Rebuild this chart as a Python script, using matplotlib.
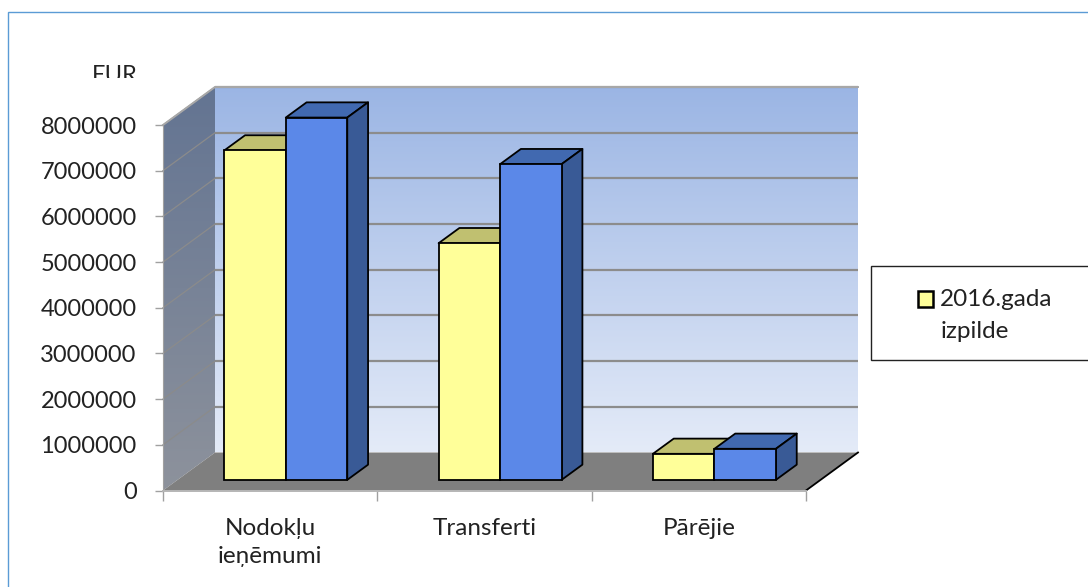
import numpy as np
import matplotlib
matplotlib.use("Agg")
import matplotlib.pyplot as plt
from matplotlib.patches import Polygon, Rectangle
from matplotlib.transforms import Bbox

categories = ["Nodokļu\nieņēmumi", "Transferti", "Pārējie"]
izpilde_2016 = [7210000, 5180000, 570000]
otra_serija = [7930000, 6910000, 680000]
y_ticks = [0, 1000000, 2000000, 3000000, 4000000, 5000000, 6000000, 7000000, 8000000]
legend_label = "2016.gada\nizpilde"
unit_label = "EUR"

W, H = 1088, 587
plt.rcParams["font.family"] = ["Lato", "DejaVu Sans"]

fig = plt.figure(figsize=(W / 100, H / 100), dpi=100)
ax = fig.add_axes([163 / W, (H - 490.5) / H, 643 / W, 365.5 / H])
ax.set_xlim(0, 3)
ax.set_ylim(0, 8000000)

# depth of the 3d box, in data units (52 px across, 38 px up)
DX = 52 / (643 / 3)
DY = 38 / (365.5 / 8000000)


def proj(x, y, d):
    return x + d * DX, y + d * DY


def poly(points, **kw):
    p = Polygon(points, closed=True, clip_on=False, **kw)
    ax.add_patch(p)
    return p


def gradient(top, bottom, extent, zorder):
    top, bottom = np.array(top) / 255, np.array(bottom) / 255
    t = np.linspace(0, 1, 256)[:, None, None]
    img = top * (1 - t) + bottom * t
    return ax.imshow(img, extent=extent, aspect="auto", origin="upper",
                     zorder=zorder, clip_on=False, interpolation="bilinear")


ymax = y_ticks[-1]

# back wall
wx0, wy0 = proj(0, 0, 1)
wx1, wy1 = proj(3, ymax, 1)
gradient((155, 181, 228), (228, 235, 248), [wx0, wx1, wy0, wy1], 1)

# side wall, the image needs the figure as clip box or it stops at the axes
sx1, sy1 = proj(0, ymax, 1)
side_pts = [(0, 0), (0, ymax), (sx1, sy1), (wx0, wy0)]
side_clip = poly(side_pts, facecolor="none", edgecolor="none", zorder=1)
side = gradient((99, 116, 146), (141, 146, 156), [0, wx0, 0, sy1], 1)
side.set_clip_on(True)
side.set_clip_box(fig.bbox)
side.set_clip_path(side_clip)

# grid lines on walls
for v in y_ticks[1:]:
    x0, y0 = proj(0, v, 1)
    x1, y1 = proj(3, v, 1)
    ax.plot([x0, x1], [y0, y1], color="#8c8c8c", lw=1.6, zorder=2, clip_on=False,
            solid_capstyle="butt")
    ax.plot([0, x0], [v, y0], color="#8b8b8b", lw=0.9, zorder=2, clip_on=False)

# floor
fx, fy = proj(3, 0, 1)
poly([(0, 0), (3, 0), (fx, fy), (wx0, wy0)], facecolor="#7f7f7f", edgecolor="none", zorder=3)
ax.plot([3, fx], [0, fy], color="black", lw=1.3, zorder=4, clip_on=False)

# bars
bar_w = 61.5 / (643 / 3)
d_front = 0.30
d_bar = 0.4
offset_x, _ = proj(0, 0, d_front)
_, base = proj(0, 0, 0.28)
centers = np.arange(len(categories)) + 0.5 + offset_x


def draw_series(xs, values, front, top, side_col, z, label=None):
    ax.bar(xs, values, bar_w, bottom=base, color=front, edgecolor="black", linewidth=1.3,
           zorder=z + 1, label=label, clip_on=False)
    for x, v in zip(xs, values):
        l, r = x - bar_w / 2, x + bar_w / 2
        b, t = base, base + v
        ddx, ddy = d_bar * DX, d_bar * DY
        poly([(l, t), (r, t), (r + ddx, t + ddy), (l + ddx, t + ddy)], facecolor=top,
             edgecolor="black", linewidth=1.3, joinstyle="round", zorder=z)
        poly([(r, b), (r + ddx, b + ddy), (r + ddx, t + ddy), (r, t)], facecolor=side_col,
             edgecolor="black", linewidth=1.3, joinstyle="round", zorder=z)


draw_series(centers - bar_w / 2, izpilde_2016, "#ffff99", "#c0c070", "#a8a860", 5,
            label=legend_label)
draw_series(centers + bar_w / 2, otra_serija, "#5b88e8", "#4169b0", "#395a96", 7)

# top edge of the box
ax.plot([0, sx1, wx1], [ymax, sy1, sy1], color="#a8a8a8", lw=1.4, zorder=2, clip_on=False)

# axes
ax.patch.set_visible(False)
for s in ["top", "right"]:
    ax.spines[s].set_visible(False)
ax.spines["left"].set_color("#a0a0a0")
ax.spines["bottom"].set_color("#b5b5b5")
ax.spines["bottom"].set_linewidth(1.4)
ax.spines["left"].set_zorder(4)
ax.spines["bottom"].set_zorder(4)

ax.set_yticks(y_ticks)
ax.set_yticklabels([str(v) for v in y_ticks])
ax.set_xticks([0, 1, 2, 3])
ax.set_xticklabels([])
ax.set_xticks([0.5, 1.5, 2.5], minor=True)
ax.set_xticklabels(categories, minor=True, linespacing=1.38)
ax.tick_params(axis="y", length=6, width=1, color="#a0a0a0", labelsize=17,
               labelcolor="#222222", pad=13)
ax.tick_params(axis="x", which="major", length=7, width=1, color="#a0a0a0")
ax.tick_params(axis="x", which="minor", length=0, labelsize=17.5, labelcolor="#222222", pad=20)

# unit label, cut off at the bottom as in the source picture
t = fig.text(138 / W, (H - 82) / H, unit_label, ha="right", va="baseline", fontsize=17,
             color="#222222")
t.set_clip_on(True)
t.set_clip_box(Bbox([[0, H - 78], [W, H]]))

# outer frame, runs off the right and bottom of the picture
fig.add_artist(Rectangle((8 / W, -10 / H), (W + 20) / W, (H - 12 + 10) / H, fill=False,
                         edgecolor="#5b9bd5", linewidth=1, transform=fig.transFigure))

# legend box, cut by the right edge
fig.add_artist(Rectangle((871 / W, (H - 360) / H), 240 / W, 94 / H, facecolor="white",
                         edgecolor="#222222", linewidth=1, transform=fig.transFigure))
leg = fig.legend(*ax.get_legend_handles_labels(), frameon=False, fontsize=17.5,
                 loc="upper left", bbox_to_anchor=(918 / W, (H - 289) / H),
                 borderpad=0, borderaxespad=0, handlelength=0.62, handleheight=0.62,
                 handletextpad=0.3, labelspacing=0, labelcolor="#222222")
leg.get_texts()[0].set_linespacing(1.65)
handle = leg.legend_handles[0]
handle.set_y(handle.get_y() + 12)
handle.set_linewidth(1.8)

fig.savefig("out.png", dpi=100)
